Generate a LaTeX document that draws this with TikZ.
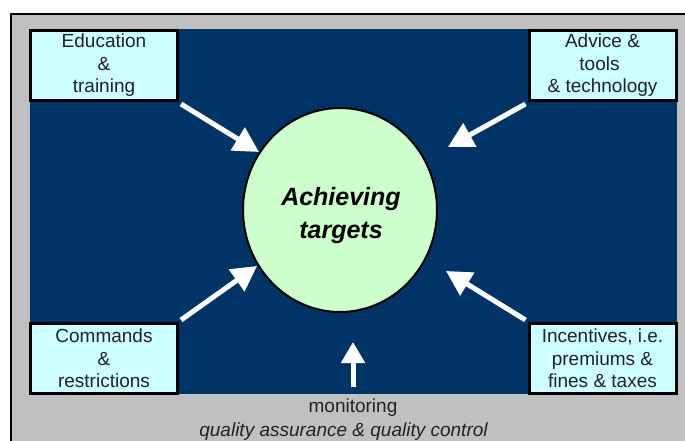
\documentclass[tikz,border=0pt]{standalone}
\usepackage{fontspec}
\setmainfont{Liberation Sans}
\usetikzlibrary{arrows.meta,shapes.geometric}
\definecolor{navy}{RGB}{0,51,102}
\definecolor{framegray}{RGB}{192,192,192}
\definecolor{boxcyan}{RGB}{204,255,255}
\definecolor{circgreen}{RGB}{204,255,204}
\definecolor{txt}{RGB}{34,34,34}
\tikzset{
  infobox/.style={draw=black, line width=3pt, fill=boxcyan, text=txt,
    minimum width=147pt, minimum height=70pt, inner sep=0pt, align=center,
    font=\fontsize{19}{22.5}\selectfont},
  goal/.style={ellipse, draw=black, line width=2pt, fill=circgreen,
    minimum width=194pt, minimum height=204pt, inner sep=0pt},
  goaltext/.style={align=center, inner sep=0pt,
    font=\fontsize{25}{33}\selectfont\bfseries\itshape},
  whitearrow/.style={draw=white, line width=5pt,
    -{Triangle[length=25pt,width=26pt]}},
  caption/.style={text=txt, inner sep=0pt, font=\fontsize{19}{22}\selectfont}
}
\begin{document}
\begin{tikzpicture}[x=1pt,y=-1pt]
\useasboundingbox (0,0) rectangle (685,441);
\fill[white] (0,0) rectangle (685,441);
% outer frame
\draw[black, line width=2pt, fill=framegray] (11,14) rectangle (700,460);
% blue field
\fill[navy] (30,29) rectangle (677,394);
% goal
\node[goal] (goal) at (340,210) {};
\node[goaltext] (goallabel) at (341,216) {Achieving\\targets};
% boxes
\node[infobox] (edu) at (104,65.5) {Education\\\&\\training};
\node[infobox] (adv) at (602.5,65.5) {Advice \&\\\hbox{tools\kern6pt}\\\& technology};
\node[infobox] (cmd) at (104,358.5) {Commands\\\&\\restrictions};
\node[infobox] (inc) at (602.5,358.5) {Incentives, i.e.\\premiums \&\\fines \& taxes};
% arrow tips
\coordinate (tipEdu) at (259,152);
\coordinate (tipAdv) at (448,147);
\coordinate (tipCmd) at (257,266);
\coordinate (tipInc) at (446,271);
\coordinate (monStart) at (353,387);
\coordinate (tipMon) at (353,342);
% arrows
\draw[whitearrow] ([shift={(2,2)}]edu.south east) -- (tipEdu);
\draw[whitearrow] ([shift={(-2,2)}]adv.south west) -- (tipAdv);
\draw[whitearrow] ([shift={(2,-2)}]cmd.north east) -- (tipCmd);
\draw[whitearrow] ([shift={(-2,-2)}]inc.north west) -- (tipInc);
\draw[draw=white, line width=5pt, -{Triangle[length=21pt,width=23pt]}] (monStart) -- (tipMon);
% captions
\node[caption] (mon) at (353,408) {monitoring};
\node[caption, font=\fontsize{19}{22}\selectfont\itshape] (qa) at (343.5,432) {quality assurance \& quality control};
\end{tikzpicture}
\end{document}
